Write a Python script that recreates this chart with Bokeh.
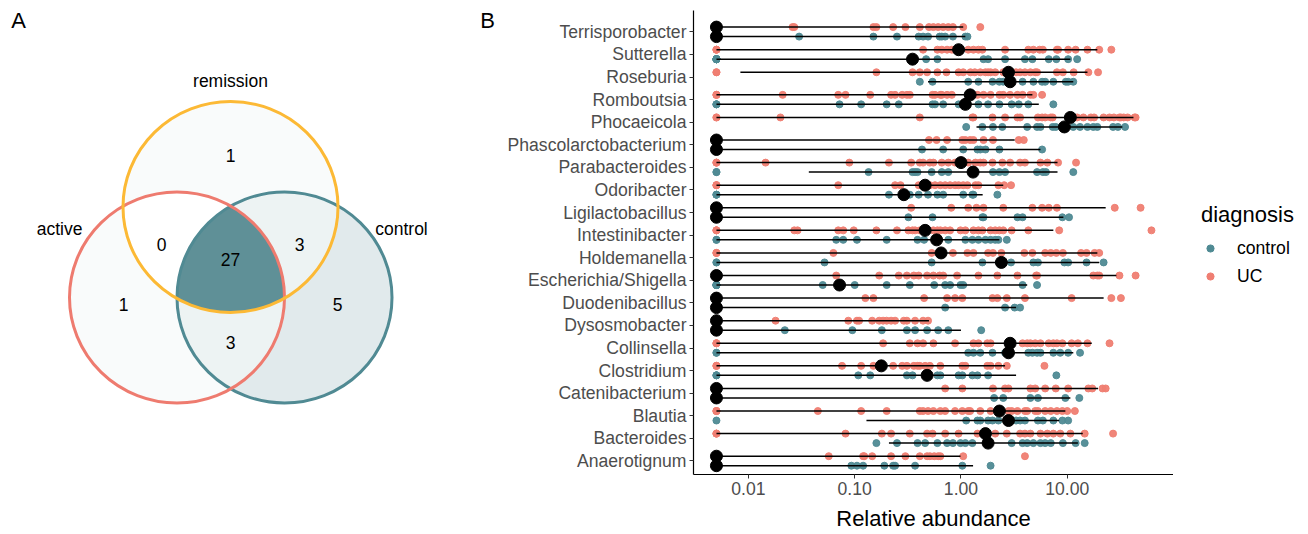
import numpy as np
from bokeh.plotting import figure
from bokeh.models import (Range1d, FixedTicker, NumeralTickFormatter, Legend,
                          LegendItem, ColumnDataSource)
from bokeh.layouts import row
from bokeh.embed import file_html
from bokeh.resources import INLINE
from bokeh.core.properties import value

FONT = "Liberation Sans"

# ---------------- Panel A data (Venn) ----------------
venn_sets = ["active", "remission", "control"]
region_names = ["active", "remission", "control", "active&remission",
                "active&control", "remission&control", "all"]
region_counts = [1, 1, 5, 0, 3, 3, 27]

# ---------------- Panel B data ----------------
genera = ["Anaerotignum", "Bacteroides", "Blautia", "Catenibacterium",
          "Clostridium", "Collinsella", "Dysosmobacter", "Duodenibacillus",
          "Escherichia/Shigella", "Holdemanella", "Intestinibacter",
          "Ligilactobacillus", "Odoribacter", "Parabacteroides",
          "Phascolarctobacterium", "Phocaeicola", "Romboutsia", "Roseburia",
          "Sutterella", "Terrisporobacter"]

# non-zero relative abundances (UC)
uc_values = [
    [0.057, 0.12, 0.123, 0.146, 0.22, 0.30, 0.41, 0.48, 0.51, 0.56, 0.61, 0.64, 1.05, 4.0],
    [0.082, 0.18, 0.22, 0.33, 0.48, 0.54, 0.71, 0.95, 1.43, 1.77, 2.1, 2.7, 3.6, 4.0, 4.5, 5.6, 6.5, 7.4, 8.6, 10.7, 14.6, 27],
    [0.045, 0.115, 0.20, 0.41, 0.44, 0.49, 0.55, 0.64, 0.71, 0.88, 1.03, 1.17, 1.22, 1.52, 1.9, 2.3, 2.8, 3.0, 3.4, 4.0, 4.2, 5.0, 5.3, 6.2, 7.0, 8.0, 9.0, 10.0, 11.8],
    [0.71, 1.03, 2.0, 2.6, 2.8, 4.5, 5.0, 6.2, 7.8, 10.2, 15.8, 17.2, 21.5, 23],
    [0.076, 0.115, 0.15, 0.23, 0.28, 0.31, 0.36, 0.39, 0.41, 0.46, 0.51, 0.64, 1.03, 1.1, 1.77, 1.9, 2.25, 2.7, 6.1],
    [0.185, 0.33, 0.39, 0.44, 0.55, 0.88, 1.31, 1.46, 1.77, 1.9, 3.8, 4.2, 4.5, 5.0, 5.6, 6.7, 7.4, 8.0, 9.0, 11, 12.6, 15.5, 25],
    [0.018, 0.087, 0.105, 0.11, 0.146, 0.17, 0.185, 0.20, 0.22, 0.24, 0.29, 0.31, 0.37, 0.44, 0.49],
    [0.126, 0.15, 0.45, 0.74, 0.88, 1.03, 1.98, 2.2, 2.7, 4.0, 11, 26, 32],
    [0.067, 0.17, 0.26, 0.31, 0.36, 0.40, 0.48, 0.55, 0.63, 0.68, 0.92, 1.46, 2.2, 3.4, 5.1, 5.2, 17.6, 19.2, 20, 31, 44],
    [0.063, 0.53, 0.84, 1.15, 1.31, 1.8, 2.0, 2.4, 3.95, 4.7, 6.2, 7.0, 7.9, 9.1, 13.5, 15.2, 18.1, 20],
    [0.027, 0.029, 0.070, 0.078, 0.098, 0.16, 0.25, 0.32, 0.35, 0.37, 0.41, 0.55, 0.60, 0.64, 0.71, 0.79, 0.99, 1.1, 1.31, 1.46, 1.59, 1.9, 2.1, 2.3, 2.5, 3.0, 4.3, 8.4, 62],
    [0.34, 0.81, 1.17, 1.4, 1.63, 2.5, 4.7, 5.8, 6.7, 8.0, 28, 49],
    [0.070, 0.24, 0.27, 0.40, 0.51, 0.57, 0.64, 0.71, 0.79, 0.88, 0.95, 1.05, 1.15, 1.37, 1.46, 2.25, 2.55, 2.96],
    [0.0145, 0.089, 0.21, 0.34, 0.41, 0.44, 0.51, 0.55, 0.66, 0.76, 0.88, 1.17, 1.37, 1.52, 1.63, 1.98, 2.45, 2.9, 3.6, 4.0, 5.6, 6.5, 8.2, 12.1],
    [0.50, 0.59, 0.74, 1.03, 1.1, 1.22, 1.31, 1.63, 2.0, 3.5, 3.9],
    [0.020, 0.41, 1.28, 1.31, 1.98, 2.6, 3.4, 3.6, 5.3, 5.8, 6.2, 7.0, 7.3, 10.7, 12.4, 14.2, 16.7, 17.9, 22, 25, 27.5, 31, 32, 34, 37, 43, 44],
    [0.021, 0.070, 0.082, 0.14, 0.22, 0.24, 0.28, 0.31, 0.33, 0.54, 0.57, 0.64, 0.66, 0.74, 0.82, 1.22, 1.43, 1.63, 1.9, 2.3, 2.5, 2.9, 3.4, 3.8, 4.5, 4.8, 5.8],
    [0.16, 0.35, 0.41, 0.48, 0.60, 0.73, 0.95, 1.05, 1.23, 1.35, 1.52, 1.7, 1.8, 1.9, 2.1, 2.5, 2.6, 2.8, 3.3, 3.6, 4.0, 4.5, 5.0, 5.2, 8.0, 9.1, 11.5, 15.8, 19.5],
    [0.44, 0.60, 0.66, 0.74, 0.82, 0.88, 0.92, 1.17, 1.31, 1.46, 1.59, 2.6, 4.3, 4.8, 5.5, 5.9, 8.0, 8.2, 10.2, 12.0, 15.5, 20, 26],
    [0.026, 0.027, 0.15, 0.16, 0.23, 0.30, 0.41, 0.50, 0.55, 0.61, 0.68, 0.76, 0.84, 1.05, 1.52],
]
uc_zero_count = [24, 3, 3, 24, 3, 3, 24, 25, 25, 3, 3, 25, 3, 3, 24, 2, 3, 2, 3, 22]

# non-zero relative abundances (control)
ctrl_values = [
    [0.093, 0.105, 0.12, 0.19, 0.23, 0.24, 0.37, 1.03, 1.9],
    [0.16, 0.25, 0.39, 0.46, 0.60, 0.74, 0.84, 0.99, 1.1, 1.28, 1.8, 3.0, 3.8, 4.2, 4.8, 5.6, 6.2, 7.0, 9.1, 12, 14.6],
    [1.12, 1.43, 1.52, 1.8, 1.98, 2.25, 2.8, 3.3, 3.6, 4.0, 5.3, 5.9, 7.4, 9.0, 10.2],
    [2.05, 2.5, 4.5, 5.3, 9.6, 13],
    [0.108, 0.14, 0.31, 0.35, 0.60, 0.64, 0.95, 1.03, 1.28, 1.43, 1.8, 7.9],
    [1.17, 1.31, 1.52, 1.98, 2.6, 4.3, 4.7, 5.2, 5.6, 7.4, 8.6, 10.2, 13.2],
    [0.022, 0.095, 0.18, 0.31, 0.37, 0.48, 0.61, 0.76, 1.55],
    [0.71, 2.6, 3.2, 3.6],
    [0.050, 0.10, 0.20, 0.33, 0.56, 0.71, 0.79, 0.99, 1.05, 3.8, 5.2],
    [0.052, 0.53, 1.59, 2.96, 4.8, 5.3, 9.4, 10.2, 15.2, 22],
    [0.067, 0.078, 0.105, 0.20, 0.39, 0.45, 0.76, 1.1, 1.28, 1.46, 1.7, 1.9, 2.1, 2.25, 2.7],
    [0.32, 0.54, 1.59, 1.63, 3.4, 3.8, 9.0, 10.4],
    [0.21, 0.33, 0.40, 0.49, 0.60, 0.68, 1.05, 1.28, 1.31, 2.2],
    [0.135, 0.35, 0.37, 0.39, 0.53, 0.66, 0.76, 1.31, 2.0, 2.3, 2.6, 5.2, 5.9, 6.3, 11.4],
    [0.43, 0.68, 1.05, 1.43, 1.52, 1.7, 2.3, 5.8],
    [1.12, 1.59, 2.0, 2.45, 4.2, 5.2, 5.6, 7.3, 7.8, 9.4, 11.4, 13.2, 15.5, 17.6, 19.2, 27, 30, 35],
    [0.072, 0.115, 0.20, 0.26, 0.54, 0.57, 0.68, 0.95, 1.1, 1.46, 1.8, 2.3, 3.0, 3.5, 4.3, 7.4],
    [0.41, 0.54, 1.17, 1.46, 1.98, 2.3, 2.5, 2.9, 3.8, 4.8, 5.8, 6.2, 7.4, 9.7, 10.2, 11.4],
    [0.47, 0.60, 1.63, 1.8, 2.6, 4.0, 4.7, 6.7, 7.9, 10.2, 12.4],
    [0.030, 0.15, 0.25, 0.40, 0.44, 0.49, 0.63, 0.66, 0.71, 0.84, 1.1, 1.15],
]
ctrl_zero_count = [18, 0, 1, 20, 3, 2, 18, 22, 9, 2, 2, 20, 3, 2, 18, 0, 3, 0, 10, 14]

# medians and interval ends (0 = no abundance)
uc_median = [0, 1.7, 2.3, 0, 0.178, 2.9, 0, 0, 0, 0.65, 0.46, 0, 0.46, 1.0, 0, 10.7, 1.22, 2.8, 0.95, 0]
uc_low = [0, 0, 0, 0, 0, 0, 0, 0, 0, 0, 0, 0, 0, 0, 0, 0, 0, 0.0084, 0, 0]
uc_high = [0.99, 14, 9.6, 19.5, 2.6, 17, 0.50, 22, 29, 19.2, 7.4, 23, 2.5, 8.1, 3.2, 42, 4.7, 15.5, 19.2, 1.05]
ctrl_median = [0, 1.8, 2.8, 0, 0.48, 2.8, 0, 0, 0.072, 2.4, 0.59, 0, 0.29, 1.3, 0, 9.4, 1.1, 2.9, 0.35, 0]
ctrl_low = [0, 0.21, 0.129, 0, 0, 0, 0, 0, 0, 0, 0, 0, 0, 0.037, 0, 1.4, 0, 0.49, 0, 0]
ctrl_high = [1.3, 12.6, 8.4, 10.7, 3.3, 11.4, 1.0, 3.3, 4.2, 20, 2.3, 9.2, 1.6, 8.1, 5.6, 33, 5.4, 11.4, 10.7, 1.1]

# ---------------- styling ----------------
UC_COLOR = "#EF7E72"
CT_COLOR = "#4F8A93"
ZERO_POS = 0.005      # where zero abundances are drawn on the log axis
DODGE = 0.21
TOP, BOTTOM = 10, 60  # shared vertical borders so the row's frames line up

# ================= Panel A: Venn diagram =================
# data coordinates of this panel equal page pixels (y negated)
pA = figure(width=500, height=534, x_range=Range1d(0, 500), y_range=Range1d(-534 + BOTTOM, -TOP),
            output_backend="svg", toolbar_location=None,
            min_border_left=0, min_border_right=0, min_border_top=TOP, min_border_bottom=BOTTOM,
            x_axis_location=None, y_axis_location=None)
pA.grid.visible = False
pA.outline_line_color = None

venn_cx = [176.5, 230.0, 284.0]
venn_cy = [-297.0, -206.5, -297.0]
venn_w, venn_h = 215.0, 211.0
venn_line_colors = ["#EE7B6F", "#FCB935", "#508A93"]

# raster of region fills, coloured by count (white -> teal)
x0r, y0r, W, H = 60, -412, 345, 320
gx = x0r + np.arange(W) + 0.5
gy = y0r + np.arange(H) + 0.5
GX, GY = np.meshgrid(gx, gy)
inside = [((GX - cx) / (venn_w / 2)) ** 2 + ((GY - cy) / (venn_h / 2)) ** 2 <= 1.0
          for cx, cy in zip(venn_cx, venn_cy)]
ina, inr, inc = inside
masks = [ina & ~inr & ~inc, inr & ~ina & ~inc, inc & ~ina & ~inr,
         ina & inr & ~inc, ina & inc & ~inr, inr & inc & ~ina, ina & inr & inc]
hi_rgb = np.array([95, 144, 151], dtype=float)
img = np.zeros((H, W), dtype=np.uint32)
view = img.view(dtype=np.uint8).reshape((H, W, 4))
cmax = max(region_counts)
for m, cnt in zip(masks, region_counts):
    f = cnt / cmax
    rgb = 255 * (1 - f) + hi_rgb * f
    view[m, 0] = int(round(rgb[0]))
    view[m, 1] = int(round(rgb[1]))
    view[m, 2] = int(round(rgb[2]))
    view[m, 3] = 255
pA.image_rgba(image=[img], x=x0r, y=y0r, dw=W, dh=H)

for k in (2, 0, 1):
    pA.ellipse(x=venn_cx[k], y=venn_cy[k], width=venn_w, height=venn_h,
               fill_color=None, line_color=venn_line_colors[k], line_width=3)

region_lx = [123, 230, 337, 161, 230, 299, 230]
region_ly = [-304, -155, -304, -244, -342, -244, -259]
pA.text(x=region_lx, y=region_ly, text=[str(c) for c in region_counts],
        text_font=value(FONT), text_font_size="17.5px", text_color="black",
        text_align="center", text_baseline="middle")
pA.text(x=[59, 230, 401], y=[-228, -80, -228], text=venn_sets,
        text_font=value(FONT), text_font_size="17.5px", text_color="black",
        text_align="center", text_baseline="middle")
pA.text(x=[18, 487], y=[-20, -20], text=["A", "B"],
        text_font=value(FONT), text_font_size="22px", text_color="black",
        text_align="center", text_baseline="middle")

# ================= Panel B: abundance plot =================
row_px = 22.58
y_top = 20.6 + (17.8 - TOP) / row_px
pB = figure(frame_width=480, frame_height=534 - TOP - BOTTOM, x_axis_type="log",
            x_range=Range1d(10 ** -2.517, 10 ** 2.0), y_range=Range1d(0.4, y_top),
            min_border_left=193, min_border_right=0, min_border_top=TOP,
            min_border_bottom=BOTTOM, output_backend="svg", toolbar_location=None)
pB.grid.visible = False
pB.outline_line_color = None


def point_source(values, zeros, offset):
    xs, ys = [], []
    for i, (vals, nz) in enumerate(zip(values, zeros)):
        for v in [0.0] * nz + list(vals):
            xs.append(v if v > 0 else ZERO_POS)
            ys.append(i + 1 + offset)
    return ColumnDataSource(dict(x=xs, y=ys))


def pos(v):
    return [x if x > 0 else ZERO_POS for x in v]


src_ct = point_source(ctrl_values, ctrl_zero_count, -DODGE)
src_uc = point_source(uc_values, uc_zero_count, +DODGE)
pB.scatter("x", "y", source=src_ct, size=7, color=CT_COLOR, alpha=0.95)
pB.scatter("x", "y", source=src_uc, size=7, color=UC_COLOR, alpha=0.95)

ys = np.arange(1, len(genera) + 1)
pB.segment(x0=pos(uc_low), y0=ys + DODGE, x1=pos(uc_high), y1=ys + DODGE,
           line_color="black", line_width=1.5)
pB.segment(x0=pos(ctrl_low), y0=ys - DODGE, x1=pos(ctrl_high), y1=ys - DODGE,
           line_color="black", line_width=1.5)
pB.scatter(x=pos(uc_median), y=ys + DODGE, size=12, color="black")
pB.scatter(x=pos(ctrl_median), y=ys - DODGE, size=12, color="black")

# axes
pB.yaxis.ticker = FixedTicker(ticks=list(ys))
pB.yaxis.major_label_overrides = {int(i): g for i, g in zip(ys, genera)}
pB.xaxis.ticker = FixedTicker(ticks=[0.01, 0.1, 1, 10])
pB.xaxis.formatter = NumeralTickFormatter(format="0.00")
pB.xaxis.axis_label = "Relative abundance"
for ax in (pB.xaxis, pB.yaxis):
    ax.axis_line_color = "black"
    ax.axis_line_width = 1.2
    ax.major_tick_line_color = "#333333"
    ax.major_tick_out = 4
    ax.major_tick_in = 0
    ax.minor_tick_line_color = None
    ax.major_label_text_font = FONT
    ax.major_label_text_font_size = "17.6px"
    ax.major_label_text_color = "#4D4D4D"
    ax.major_label_standoff = 3
pB.xaxis.axis_label_text_font = FONT
pB.xaxis.axis_label_text_font_size = "22px"
pB.xaxis.axis_label_text_font_style = "normal"
pB.xaxis.axis_label_text_color = "black"
pB.xaxis.axis_label_standoff = 8

# ================= Legend panel =================
pC = figure(width=1308 - 500 - 673, height=534, x_range=Range1d(0, 1), y_range=Range1d(0, 1),
            output_backend="svg", toolbar_location=None,
            min_border_left=0, min_border_right=0, min_border_top=TOP, min_border_bottom=BOTTOM,
            x_axis_location=None, y_axis_location=None)
pC.grid.visible = False
pC.outline_line_color = None
# legend keys (no positions: nothing is drawn in the panel itself)
k_ct = pC.scatter(x=[np.nan], y=[np.nan], size=7, color=CT_COLOR)
k_uc = pC.scatter(x=[np.nan], y=[np.nan], size=7, color=UC_COLOR)
legend = Legend(items=[LegendItem(label="control", renderers=[k_ct]),
                       LegendItem(label="UC", renderers=[k_uc])],
                location=(28, 184), title="diagnosis",
                title_text_font=FONT, title_text_font_size="22px",
                title_text_font_style="normal", title_text_color="black",
                title_standoff=6, label_text_font=FONT,
                label_text_font_size="17.6px", label_text_color="black",
                glyph_width=18, glyph_height=28, label_height=28,
                label_standoff=18, padding=0, margin=0, spacing=0,
                border_line_color=None, background_fill_alpha=0)
pC.add_layout(legend)

layout = row(pA, pB, pC)
open("out.html", "w").write(file_html(layout, INLINE))
